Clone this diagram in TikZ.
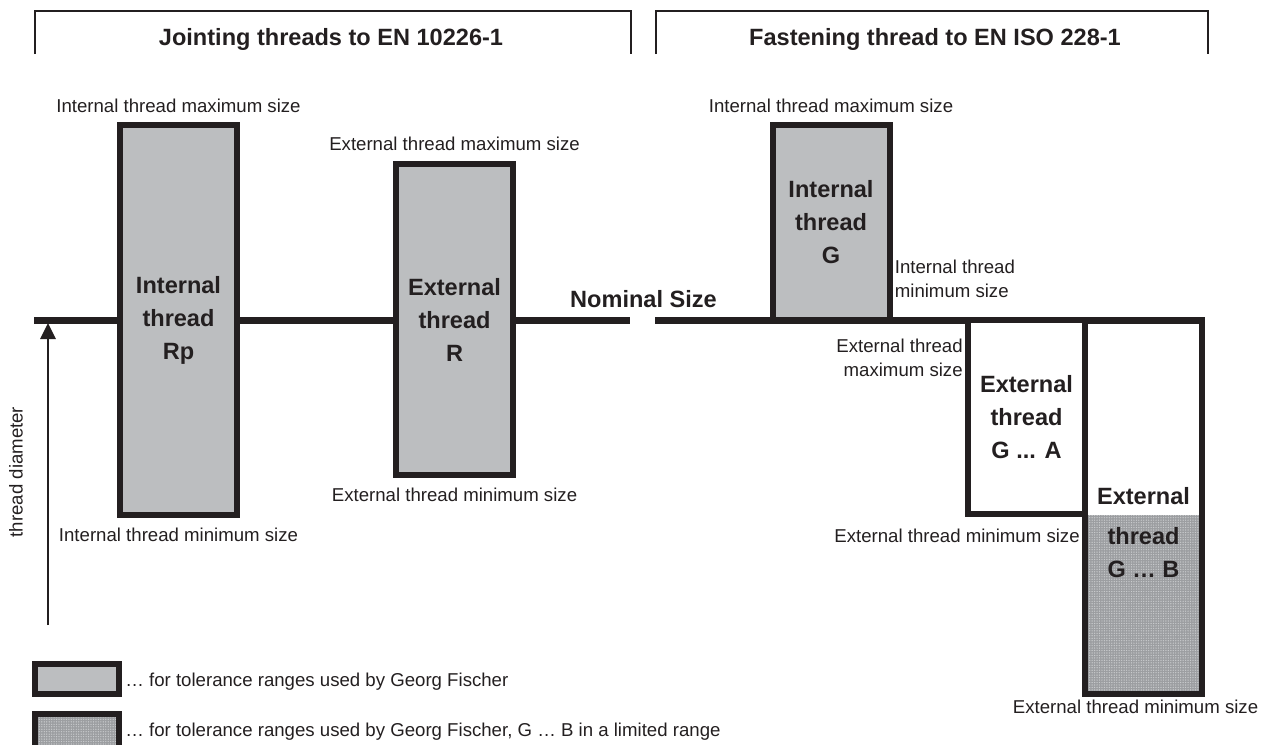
\documentclass[tikz,border=0pt]{standalone}
\usepackage{fontspec}
\setmainfont{Liberation Sans}
\usepackage{tikz}
\usetikzlibrary{arrows.meta}
\usetikzlibrary{patterns.meta}
\usetikzlibrary{positioning}

\definecolor{ink}{HTML}{231F20}
\definecolor{tolgray}{HTML}{BCBEC0}
\definecolor{dotgray}{HTML}{9C9EA1}

\tikzset{
  sizelabel/.style={text=ink, inner sep=0pt, font=\fontsize{10.6}{13.7}\selectfont},
  boxlabel/.style={text=ink, inner sep=0pt, align=center, font=\fontsize{13.4}{18.8}\selectfont\bfseries},
  rangebox/.style={boxlabel, draw=ink, line width=0.12cm},
  tolbox/.style={rangebox, fill=tolgray},
  dotfill/.style={preaction={fill=dotgray}, pattern={Dots[distance=1.4pt, radius=0.4pt]}, pattern color=tolgray!80!white},
  bracket/.style={draw=ink, line width=0.05cm},
  nominal/.style={draw=ink, line width=0.14cm}
}

\begin{document}
\begin{tikzpicture}[>=Stealth, x=0.02cm, y=-0.02cm]
  \useasboundingbox (0,0) rectangle (1273,744);

  % section headings
  \draw[bracket] (35,54) -- (35,11) -- (631,11) -- (631,54);
  \draw[bracket] (656,54) -- (656,11) -- (1208,11) -- (1208,54);
  \node[boxlabel, anchor=base] (jointing) at (331,45) {Jointing threads to EN 10226-1};
  \node[boxlabel, anchor=base] (fastening) at (935,45) {Fastening thread to EN ISO 228-1};

  % nominal size line
  \draw[nominal] (34,320) -- (630,320);
  \draw[nominal] (655,320) -- (1205,320);
  \node[boxlabel, anchor=base] (nominal) at (643.5,307) {Nominal Size};

  % diameter axis
  \coordinate (diabot) at (48,625);
  \coordinate (diatop) at (48,323);
  \draw[ink, line width=0.054cm, -{Triangle[length=0.32cm, width=0.3cm]}] (diabot) -- (diatop);
  \node[sizelabel, rotate=90] (diameter) at (16,472) {thread diameter};

  % jointing threads
  \node[tolbox, minimum width=2.34cm, minimum height=7.8cm] (rp) at (178.5,320) {Internal\\thread\\Rp};
  \node[sizelabel, above=0.18cm of rp] (rpmax) {Internal thread maximum size};
  \node[sizelabel, below=0.19cm of rp] (rpmin) {Internal thread minimum size};

  \node[tolbox, minimum width=2.34cm, minimum height=6.22cm] (r) at (454.5,319.5) {External\\thread\\R};
  \node[sizelabel, above=0.2cm of r] (rmax) {External thread maximum size};
  \node[sizelabel, below=0.2cm of r] (rmin) {External thread minimum size};

  % fastening thread
  \node[tolbox, minimum width=2.34cm, minimum height=3.9cm] (g) at (831,222.5) {Internal\\thread\\G};
  \node[sizelabel, above=0.18cm of g] (gmax) {Internal thread maximum size};
  \node[sizelabel, align=left, above right=0.5cm and 0.04cm of g.south east] (gmin) {Internal thread\\minimum size};

  \node[rangebox, fill=white, minimum width=2.34cm, minimum height=3.88cm] (ga) at (1026.5,417) {External\\thread\\G ... A};
  \node[sizelabel, align=right, below left=0.43cm and 0.04cm of ga.north west] (gamax) {External thread\\maximum size};
  \node[sizelabel, anchor=base east] (gamin) at (1080,542) {External thread minimum size};

  \path[dotfill] (1085,515) rectangle (1202,694);
  \node[rangebox, minimum width=2.34cm, minimum height=7.48cm] (gb) at (1143.5,507) {};
  \node[boxlabel] (gblabel) at (1143.5,533) {External\\[0.14cm]thread\\G … B};
  \node[sizelabel, below=0.05cm of gb, xshift=-0.16cm] (gbmin) {External thread minimum size};

  % legend
  \node[tolbox, minimum width=1.68cm, minimum height=0.6cm] (legplain) at (77,679) {};
  \node[sizelabel, right=0.06cm of legplain, yshift=-0.06cm] (legplaintext) {… for tolerance ranges used by Georg Fischer};
  \begin{scope}
    \clip (0,0) rectangle (1273,744);
    \node[rangebox, dotfill, minimum width=1.68cm, minimum height=0.72cm] (legdot) at (77,732) {};
  \end{scope}
  \node[sizelabel, right=0.06cm of legdot] (legdottext) {… for tolerance ranges used by Georg Fischer, G … B in a limited range};
\end{tikzpicture}
\end{document}
